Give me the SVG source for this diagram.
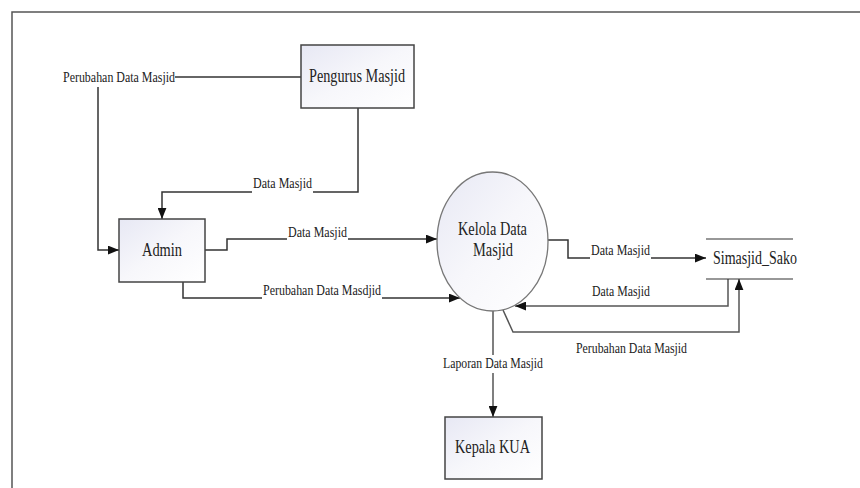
<svg xmlns="http://www.w3.org/2000/svg" width="860" height="488" viewBox="0 0 860 488">
  <style>
    .frame { fill: none; stroke: #555; stroke-width: 1.5; }
    .node { fill: url(#nodeFill); stroke: #444; stroke-width: 1.5; }
    .proc { fill: url(#nodeFill); stroke: #777; stroke-width: 1.3; }
    .store { fill: none; stroke: #333; stroke-width: 1.2; }
    .flow { fill: none; stroke: #333; stroke-width: 1.5; }
    .flow.grey { stroke: #555; }
    .arrow { marker-end: url(#head); }
    text { font-family: "Liberation Serif", "Times New Roman", Times, serif; fill: #222; text-anchor: middle; }
    .ntext { font-size: 18px; }
    .ltext { font-size: 15px; }
  </style>
  <defs>
    <linearGradient id="nodeFill" x1="0" y1="0" x2="1" y2="1">
      <stop offset="0" stop-color="#e7e8f4"/>
      <stop offset="0.5" stop-color="#f7f7fb"/>
      <stop offset="1" stop-color="#ffffff"/>
    </linearGradient>
    <marker id="head" viewBox="0 0 10 8" refX="10" refY="4" markerWidth="11" markerHeight="9" markerUnits="userSpaceOnUse" orient="auto">
      <path d="M0,0 L10,4 L0,8 Z" fill="#111"/>
    </marker>
  </defs>

  <rect width="860" height="488" fill="#ffffff"/>
  <!-- page frame -->
  <path class="frame" d="M12,488 L12,12 L860,12"/>

  <!-- connectors -->
  <g id="connectors">
    <!-- Pengurus Masjid -> Admin: Perubahan Data Masjid -->
    <path class="flow" d="M175,77 L301,77"/>
    <path class="flow arrow" d="M98,87 L98,250 L119,250"/>
    <!-- Pengurus Masjid -> Admin: Data Masjid -->
    <path class="flow" d="M358,108 L358,192 L313,192"/>
    <path class="flow arrow" d="M252,192 L162,192 L162,219"/>
    <!-- Admin -> Kelola: Data Masjid -->
    <path class="flow" d="M205,250 L227,250 L227,239 L287,239"/>
    <path class="flow arrow" d="M348,239 L437,239"/>
    <!-- Admin -> Kelola: Perubahan Data Masdjid -->
    <path class="flow" d="M183,282 L183,298 L262,298"/>
    <path class="flow arrow" d="M382,298 L460,298"/>
    <!-- Kelola -> Simasjid_Sako: Data Masjid -->
    <path class="flow" d="M548,240 L568,240 L568,258 L590,258"/>
    <path class="flow arrow" d="M651,258 L706,258"/>
    <!-- Simasjid_Sako -> Kelola: Data Masjid -->
    <path class="flow grey arrow" d="M728,279 L728,306 L515,306"/>
    <!-- Kelola -> Simasjid_Sako: Perubahan Data Masjid -->
    <path class="flow grey arrow" d="M503,310 L513,332 L739,332 L739,279"/>
    <!-- Kelola -> Kepala KUA: Laporan Data Masjid -->
    <path class="flow grey" d="M493,311 L493,355"/>
    <path class="flow grey arrow" d="M493,373 L493,417"/>

    <text class="ltext" x="119" y="82" textLength="112" lengthAdjust="spacingAndGlyphs">Perubahan Data Masjid</text>
    <text class="ltext" x="282.5" y="188" textLength="59" lengthAdjust="spacingAndGlyphs">Data Masjid</text>
    <text class="ltext" x="317.5" y="237" textLength="59" lengthAdjust="spacingAndGlyphs">Data Masjid</text>
    <text class="ltext" x="322" y="295" textLength="118" lengthAdjust="spacingAndGlyphs">Perubahan Data Masdjid</text>
    <text class="ltext" x="620.5" y="255" textLength="59" lengthAdjust="spacingAndGlyphs">Data Masjid</text>
    <text class="ltext" x="621" y="296" textLength="58" lengthAdjust="spacingAndGlyphs">Data Masjid</text>
    <text class="ltext" x="631.5" y="353" textLength="111" lengthAdjust="spacingAndGlyphs">Perubahan Data Masjid</text>
    <text class="ltext" x="493" y="368" textLength="100" lengthAdjust="spacingAndGlyphs">Laporan Data Masjid</text>
  </g>

  <!-- external entity -->
  <g id="pengurus-masjid">
    <rect class="node" x="301" y="45" width="113" height="63"/>
    <text class="ntext" x="357" y="82" textLength="96" lengthAdjust="spacingAndGlyphs">Pengurus Masjid</text>
  </g>

  <g id="admin">
    <rect class="node" x="119" y="219" width="86" height="63"/>
    <text class="ntext" x="162" y="256" textLength="40" lengthAdjust="spacingAndGlyphs">Admin</text>
  </g>

  <!-- process -->
  <g id="kelola-data-masjid">
    <ellipse class="proc" cx="492.5" cy="241.5" rx="55.5" ry="69.5"/>
    <text class="ntext" x="492.5" y="235" textLength="69" lengthAdjust="spacingAndGlyphs">Kelola Data</text>
    <text class="ntext" x="493" y="256" textLength="40" lengthAdjust="spacingAndGlyphs">Masjid</text>
  </g>

  <!-- data store -->
  <g id="simasjid-sako">
    <path class="store" d="M706,239 L793,239 M706,279 L793,279"/>
    <text class="ntext" x="755" y="264" textLength="84" lengthAdjust="spacingAndGlyphs">Simasjid_Sako</text>
  </g>

  <g id="kepala-kua">
    <rect class="node" x="445" y="417" width="97" height="62"/>
    <text class="ntext" x="492.5" y="453" textLength="75" lengthAdjust="spacingAndGlyphs">Kepala KUA</text>
  </g>
</svg>
